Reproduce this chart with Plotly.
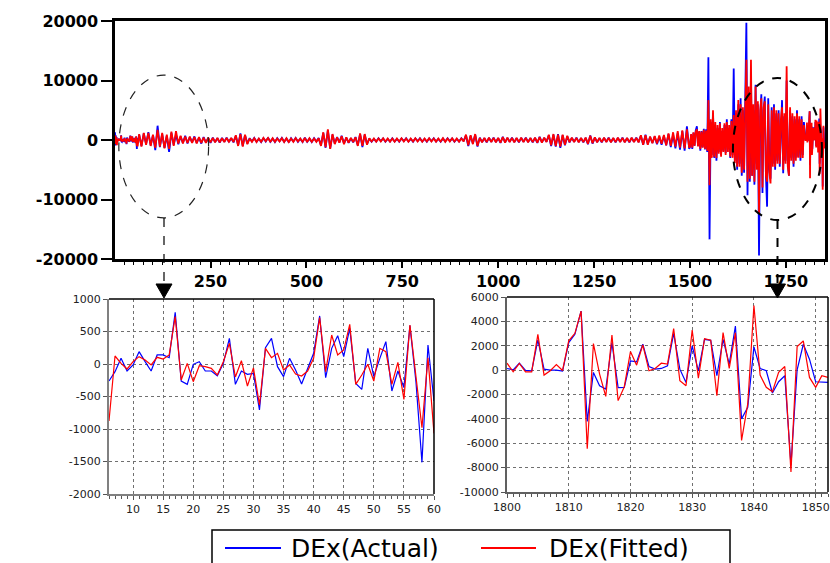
import plotly.graph_objects as go

W, H = 830, 563

# ---------------- data ----------------
# Bottom-left detail window (observations 6..60)
left_x = list(range(6, 61))
left_actual = [-262, -118, 87, -108, -15, 190, 36, -108, 139, 139, 97, 795, -262, -313, -5, 36,
               -108, -108, -180, 10, 395, -313, -108, -159, -144, -708, 251, 395,
               -41, -195, 87, -92, -308, -77, 164, 739, -210, 241, 436, 113, 549, -298, -390,
               241, -195, 87, 344, -416, -108, -364, 590, -272, -1513, 292, -570]
left_fitted = [-877, 123, 10, -77, 36, 113, 62, -15, 103, 77, 139, 728, -246, 10, -272, -26,
               -41, -67, -169, 36, 318, -200, 50, -339, -60, -630, 241, 97,
               164, -92, -15, -154, -185, -108, 87, 713, -118, 446, 139, 215, 610, -313, -169,
               -5, -262, 241, 190, -313, 26, -544, 600, -159, -980, 97, -1067]

# Bottom-right detail window (observations 1800..1852)
right_x = list(range(1800, 1853))
right_actual = [136, 27, 571, -27, -54, 2475, 82, 0, 0, -82,
                2258, 2938, 4842, -4216, -190, -1278, -1550, 2258, -1442, -1414,
                762, 680, 2122, 299, 82, 136, 350, 3019, 82, -1006,
                1986, -54, 2530, 2448, -462, 2530, 490, 3618, -3998, -3046,
                1904, 136, -54, -1877, -952, -462, -7806, 27, 2122, 898,
                -952, -1006, -1006]
right_fitted = [571, -136, 544, -136, -136, 2938, -408, -54, 462, -27,
                2400, 3019, 4842, -6446, 2176, -326, -2149, 2883, -2502, -1360,
                1523, 408, 2067, -54, 136, 571, 490, 3400, -870, -1278,
                3291, -653, 2584, 2448, -2094, 3074, 136, 3074, -5766, -2774,
                5304, -408, -1414, -1768, -190, 299, -8350, 1931, 2394, -598,
                -1414, -462, -598]

# Full sample: first observations 1..5
head_x = [1, 2, 3, 4, 5]
head_actual = [1300, -900, 800, -600, 500]
head_fitted = [800, -700, 600, -500, 400]

# Calm middle section, observations 64..1498 every 6th
mid_start, mid_step = 64, 6
mid_actual = [
    900, -1000, 1100, -700, 1300, -900, 800, -1700, 2400, -1200, 1000, -1300, 700, -2000, 1200, -800, 900,
    -700, 600, -500, 700, -600, 500, -400, 600, -500, 400, -600, 500, -400, 300, -500,
    400, -350, 300, -450, 350, -300, 400, -350, 300, -400,
    700, -900, 1100, -1000, 800, -600,
    300, -250, 350, -300, 200, -350, 300, -250, 400, -300, 250, -350, 300, -200, 350, -300,
    250, -400, 300, -250, 350, -300, 200, -350, 400, -300, 250, -350, 300, -250, 350,
    -900, 1200, -1300, 1600, -1400, 900, -600,
    500, -400, 700, -600, 400, -500, 300, -400, 500,
    -900, 1000, -1200, 900, -700,
    250, -300, 200, -250, 300, -200, 250, -300, 200, -250, 300, -250, 200, -300, 250, -200,
    300, -250, 200, -300, 250, -200, 300, -250, 200, -300, 250, -200, 300, -250, 200, -300,
    250, -250, 300, -200, 250, -300, 200, -250, 300, -200,
    800, -1000, 700, -600, 900, -1100,
    400, -350, 300, -400, 350, -300, 400, -350, 300, -500, 550, -400, 350, -300, 400,
    -350, 300, -400, 350, -300, 400, -350, 300, -400, 350, -500, 550, -400, 350, -300,
    800, -1000, 900, -1100, 1000, -1300, 800, -900, 600,
    -400, 350, -300, 400, -350, 300, -400, 350, -700, 750, -600, 400, -350, 300, -400, 350,
    -300, 400, -350, 300, -400, 350, -300, 400, -350, 300, -400, 350, -300, 400, -350,
    700, -800, 900, -700, 500,
    -500, 600, -700, 500, -800, 700, -900, 1000, -1200, 900, -1400, 1200, -1600, 1500, -1800, 2300, -1500,
]
mid_fitted = [
    1000, -1100, 1200, -800, 1200, -1000, 900, -1300, 1700, -1100, 1200, -1400, 900, -1500, 1400, -1000, 1500,
    -600, 700, -600, 600, -500, 600, -500, 500, -600, 500, -500, 400, -500, 400, -400,
    350, -400, 350, -400, 300, -350, 350, -300, 350, -350,
    800, -1000, 1000, -1100, 900, -700,
    250, -300, 300, -350, 250, -300, 350, -200, 350, -350, 300, -300, 250, -250, 300, -350,
    300, -350, 250, -300, 300, -250, 250, -300, 350, -350, 300, -300, 250, -300, 300,
    -1000, 1300, -1200, 1800, -1500, 1000, -700,
    450, -450, 650, -700, 450, -450, 350, -350, 450,
    -1000, 1100, -1000, 1000, -800,
    300, -250, 250, -300, 250, -250, 300, -250, 250, -300, 250, -300, 250, -250, 300, -250,
    250, -300, 250, -250, 300, -250, 250, -300, 250, -250, 300, -250, 250, -300, 250, -250,
    300, -300, 250, -250, 300, -250, 250, -300, 250, -250,
    900, -900, 800, -700, 1000, -1000,
    350, -400, 350, -350, 400, -350, 350, -400, 350, -450, 500, -450, 400, -350, 350,
    -400, 350, -350, 400, -350, 350, -400, 350, -350, 400, -450, 500, -450, 400, -350,
    900, -900, 1000, -1000, 900, -1100, 900, -800, 700,
    -350, 400, -350, 350, -400, 350, -350, 400, -650, 700, -550, 450, -400, 350, -350, 400,
    -350, 350, -400, 350, -350, 400, -350, 350, -400, 350, -350, 400, -350, 350, -400,
    800, -800, 800, -800, 600,
    -550, 650, -600, 750, -650, 850, -900, 1100, -1000, 1300, -1100, 1500, -1300, 1600, -1400, 1800, -1300,
]

# Volatile section, observations 1500..1797 every 3rd
vol_start, vol_step = 1500, 3
vol_actual = [
    -1200, 900, -1500, 1200, -900, 1600, 2300, -1000, 1400, -1800,
    1500, -1200, 1900, -1600, 1800, -2000, 13900, -16700, 3000, -2500,
    4500, -3000, 2500, -3500, 2000, -2000, 3000, -2500, 1500, -1800,
    2500, -2200, 3500, -1500, 2000, -3000, 3500, -2500, 12000, -3500,
    4500, -5000, 6000, -4000, 7000, -6000, 5000, -5500, 6500, 19700,
    -9300, 8000, -7000, 11000, -6000, 5000, -7500, 9300, -4000, 6000,
    -19400, 4000, 7700, -8900, 5000, 7300, -6000, -11200, 7000, -5000,
    -6500, 5500, -4000, 6000, -5000, 4500, -3500, 5000, -4500, 3000,
    6700, -5600, 4000, -3500, 10000, -4000, -6000, 5000, -3000, 4000,
    -4500, 3500, -3000, 5000, -2800, 3500, -3500, 4000, -2500, 3000,
]
vol_fitted = [
    -1100, 1000, -1300, 1300, -1000, 1400, 1800, -1100, 1500, -1500,
    1400, -1300, 1700, -1500, 1600, -1800, 6700, -7600, 3500, -3000,
    5000, -2800, 3000, -3000, 2500, -2300, 2800, -2800, 2000, -2000,
    2800, -2500, 3000, -2000, 2500, -2800, 3200, -3000, 4200, -3900,
    5000, -4500, 6700, -4500, 6000, -5500, 5500, -5000, 6000, 13500,
    -7000, 9000, -6500, 13500, -6000, 6000, -7000, 9000, -5000, 6500,
    -12400, 5000, 7000, -8000, 5500, 6500, -6000, -7000, 6000, -5500,
    -7300, 5000, -4500, 5500, -4500, 5000, -4000, 4500, -4000, 3500,
    5500, -5000, 4500, -4000, 12400, -4500, -6000, 5500, -3500, 4500,
    -4000, 4000, -3500, 4500, -3000, 4000, -3000, 3500, -3000, 2500,
]

top_y_ticks = [-20000, -10000, 0, 10000, 20000]
top_y_labels = ["-20000", "-10000", "0", "10000", "20000"]
bl_y_ticks = [-2000, -1500, -1000, -500, 0, 500, 1000]
bl_y_labels = ["-2000", "-1500", "-1000", "-500", "0", "500", "1000"]
br_y_ticks = [-10000, -8000, -6000, -4000, -2000, 0, 2000, 4000, 6000]
br_y_labels = ["-10000", "-8000", "-6000", "-4000", "-2000", "0", "2000", "4000", "6000"]

series_names = ["DEx(Actual)", "DEx(Fitted)"]
BLUE, RED = "#0000FF", "#FF0000"

# ---------------- assemble full series ----------------
mid_x = [mid_start + mid_step * i for i in range(len(mid_actual))]
vol_x = [vol_start + vol_step * i for i in range(len(vol_actual))]
full_x = head_x + left_x + mid_x + vol_x + right_x
full_actual = head_actual + left_actual + mid_actual + vol_actual + right_actual
full_fitted = head_fitted + left_fitted + mid_fitted + vol_fitted + right_fitted

fig = go.Figure()
fig.add_trace(go.Scatter(x=full_x, y=full_actual, mode="lines", line=dict(color=BLUE, width=1.8),
                         xaxis="x", yaxis="y", name=series_names[0]))
fig.add_trace(go.Scatter(x=full_x, y=full_fitted, mode="lines", line=dict(color=RED, width=1.8),
                         xaxis="x", yaxis="y", name=series_names[1]))
fig.add_trace(go.Scatter(x=left_x, y=left_actual, mode="lines", line=dict(color=BLUE, width=1.2),
                         xaxis="x2", yaxis="y2", name=series_names[0]))
fig.add_trace(go.Scatter(x=left_x, y=left_fitted, mode="lines", line=dict(color=RED, width=1.2),
                         xaxis="x2", yaxis="y2", name=series_names[1]))
fig.add_trace(go.Scatter(x=right_x, y=right_actual, mode="lines", line=dict(color=BLUE, width=1.2),
                         xaxis="x3", yaxis="y3", name=series_names[0]))
fig.add_trace(go.Scatter(x=right_x, y=right_fitted, mode="lines", line=dict(color=RED, width=1.2),
                         xaxis="x3", yaxis="y3", name=series_names[1]))


def fx(p):
    return p / W


def fy(p):
    return 1 - p / H


big_font = dict(family="DejaVu Sans", size=16, color="black", weight="bold")
small_font = dict(family="DejaVu Sans", size=11, color="#222222")
grid = dict(showgrid=True, gridcolor="#707070", gridwidth=1, griddash="dot")

fig.update_layout(
    width=W, height=H, margin=dict(l=0, r=0, t=0, b=0, autoexpand=False),
    paper_bgcolor="white", plot_bgcolor="white", showlegend=False,
    xaxis=dict(domain=[fx(115), fx(825)], anchor="y", range=[1, 1852], automargin=False,
               tickmode="linear", tick0=0, dtick=250, tickformat="d",
               ticks="outside", ticklen=6, tickwidth=1.5, tickcolor="black",
               minor=dict(tickmode="linear", tick0=0, dtick=25, ticks="outside", ticklen=3,
                          tickwidth=1, tickcolor="black", showgrid=False),
               showline=True, linecolor="black", linewidth=2.5, mirror=True,
               showgrid=False, zeroline=False, tickfont=big_font),
    yaxis=dict(domain=[fy(259), fy(21)], anchor="x", range=[-20000, 20000], automargin=False,
               tickmode="array", tickvals=top_y_ticks, ticktext=top_y_labels,
               ticks="outside", ticklen=11, tickwidth=1.5, tickcolor="black",
               showline=True, linecolor="black", linewidth=2.5, mirror=True,
               showgrid=False, zeroline=False, tickfont=big_font),
    xaxis2=dict(domain=[fx(109), fx(434)], anchor="y2", range=[6, 60], automargin=False,
                tickmode="linear", tick0=0, dtick=5, tickformat="d",
                ticks="outside", ticklen=4, tickcolor="#555555",
                minor=dict(tickmode="linear", tick0=0, dtick=1, ticks="outside", ticklen=3,
                           tickcolor="#555555", showgrid=False),
                showline=True, linecolor="#808080", linewidth=2, zeroline=False,
                tickfont=small_font, **grid),
    yaxis2=dict(domain=[fy(494), fy(299)], anchor="x2", range=[-2000, 1000], automargin=False,
                tickmode="array", tickvals=bl_y_ticks, ticktext=bl_y_labels,
                ticks="outside", ticklen=4, tickcolor="#555555",
                showline=True, linecolor="#808080", linewidth=2, zeroline=False,
                tickfont=small_font, **grid),
    xaxis3=dict(domain=[fx(507), fx(828)], anchor="y3", range=[1800, 1852], automargin=False,
                tickmode="linear", tick0=0, dtick=10, tickformat="d",
                ticks="outside", ticklen=4, tickcolor="#555555",
                minor=dict(tickmode="linear", tick0=0, dtick=1, ticks="outside", ticklen=3,
                           tickcolor="#555555", showgrid=False),
                showline=True, linecolor="#606060", linewidth=2, zeroline=False,
                tickfont=small_font, **grid),
    yaxis3=dict(domain=[fy(492), fy(297)], anchor="x3", range=[-10000, 6000], automargin=False,
                tickmode="array", tickvals=br_y_ticks, ticktext=br_y_labels,
                ticks="outside", ticklen=4, tickcolor="#555555",
                showline=True, linecolor="#606060", linewidth=2, zeroline=False,
                tickfont=small_font, **grid),
)

shapes = []
# top/right black frame edges of the two zoom panels
for ax in ("2", "3"):
    xr, yr = "x%s domain" % ax, "y%s domain" % ax
    shapes.append(dict(type="line", xref=xr, yref=yr, x0=0, x1=1, y0=1, y1=1,
                       line=dict(color="black", width=1.5)))
    shapes.append(dict(type="line", xref=xr, yref=yr, x0=1, x1=1, y0=0, y1=1,
                       line=dict(color="black", width=1.5)))

# dashed ellipses on the main chart (data coordinates)
shapes.append(dict(type="circle", xref="x", yref="y", x0=11, x1=245, y0=-13100, y1=10900,
                   line=dict(color="#222222", width=1.2, dash="dash")))
shapes.append(dict(type="circle", xref="x", yref="y", x0=1612, x1=1844, y0=-13450, y1=10420,
                   line=dict(color="black", width=2, dash="dash")))

# dashed connectors and arrow heads
for cx, ytop, lw in ((164, 218, 1.2), (777.5, 220, 2)):
    shapes.append(dict(type="line", xref="paper", yref="paper", x0=fx(cx), x1=fx(cx),
                       y0=fy(ytop), y1=fy(284), line=dict(color="black", width=lw, dash="dash")))
    path = "M %f,%f L %f,%f L %f,%f Z" % (fx(cx - 8), fy(284), fx(cx + 8), fy(284), fx(cx), fy(298))
    shapes.append(dict(type="path", xref="paper", yref="paper", path=path,
                       fillcolor="black", line=dict(color="black", width=1)))

# legend box
shapes.append(dict(type="rect", xref="paper", yref="paper", x0=fx(212), x1=fx(730),
                   y0=fy(580), y1=fy(530), line=dict(color="black", width=1.5)))
shapes.append(dict(type="line", xref="paper", yref="paper", x0=fx(225), x1=fx(281),
                   y0=fy(548), y1=fy(548), line=dict(color=BLUE, width=2)))
shapes.append(dict(type="line", xref="paper", yref="paper", x0=fx(481), x1=fx(536),
                   y0=fy(548), y1=fy(548), line=dict(color=RED, width=2)))
fig.update_layout(shapes=shapes)

leg_font = dict(family="DejaVu Sans", size=25, color="black")
fig.add_annotation(x=fx(289), y=fy(548), xref="paper", yref="paper", text=series_names[0],
                   showarrow=False, xanchor="left", yanchor="middle", font=leg_font)
fig.add_annotation(x=fx(547), y=fy(548), xref="paper", yref="paper", text=series_names[1],
                   showarrow=False, xanchor="left", yanchor="middle", font=leg_font)

fig.write_html("out.html",
               post_script="document.body.style.margin='0';document.body.style.overflow='hidden';")
